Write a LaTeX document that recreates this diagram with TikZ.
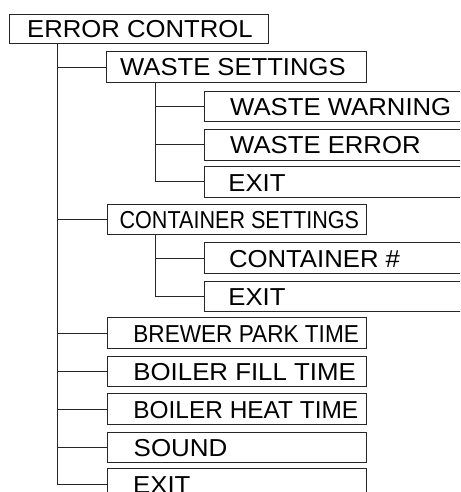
\documentclass[tikz,border=0pt]{standalone}
\usepackage{fontspec}
\setmainfont{Liberation Sans}
\usetikzlibrary{calc}
\tikzset{
  box/.style={draw=black!85, line width=0.9pt, inner sep=0pt, anchor=north west, minimum height=30.5pt},
  lvlA/.style={box, minimum width=259.5pt},
  lvlB/.style={box, minimum width=290pt},
  lbl/.style={inner sep=0pt, anchor=base west, font=\fontsize{24.5}{28}\selectfont},
  conn/.style={draw=black!85, line width=0.9pt}
}
\newcommand{\sx}[2]{\scalebox{#1}[1]{#2}}
\begin{document}
\begin{tikzpicture}[x=1pt,y=-1pt]
\useasboundingbox (0,0) rectangle (460,492);
\clip (0,0) rectangle (460,492);
% boxes
\node[box, minimum width=259.3pt, minimum height=29pt] (ec) at (9,14.3) {};
\node[lvlA] (ws) at (106.4,51.3) {};
\node[lvlB] (ww) at (204,90.7) {};
\node[lvlB] (we) at (204,129) {};
\node[lvlB] (x1) at (204,166.2) {};
\node[lvlA] (cs) at (106.6,203.5) {};
\node[lvlB] (cn) at (204,242.3) {};
\node[lvlB] (x2) at (204,280.7) {};
\node[lvlA] (bp) at (106.6,317.3) {};
\node[lvlA] (bf) at (106.6,355.7) {};
\node[lvlA] (bh) at (106.6,393.3) {};
\node[lvlA] (so) at (106.6,431.5) {};
\node[lvlA] (x3) at (106.6,468.3) {};
% labels
\node[lbl] (tec) at ($(ec.south west)+(18,-6.6)$) {\sx{1.048}{ERROR CONTROL}};
\node[lbl] (tws) at ($(ws.south west)+(13.6,-6.8)$) {\sx{1.046}{WASTE SETTINGS}};
\node[lbl] (tww) at ($(ww.south west)+(26,-6.6)$) {\sx{1.05}{WASTE WARNING}};
\node[lbl] (twe) at ($(we.south west)+(26,-6.6)$) {\sx{1.049}{WASTE ERROR}};
\node[lbl] (tx1) at ($(x1.south west)+(24.2,-6.6)$) {\sx{1.05}{EXIT}};
\node[lbl] (tcs) at ($(cs.south west)+(12.8,-6.8)$) {\sx{0.881}{CONTAINER SETTINGS}};
\node[lbl] (tcn) at ($(cn.south west)+(24.8,-6.6)$) {\sx{1.05}{CONTAINER \#}};
\node[lbl] (tx2) at ($(x2.south west)+(24.2,-6.6)$) {\sx{1.05}{EXIT}};
\node[lbl] (tbp) at ($(bp.south west)+(26.6,-6.4)$) {\sx{0.922}{BREWER PARK TIME}};
\node[lbl] (tbf) at ($(bf.south west)+(26.6,-6.4)$) {\sx{1.054}{BOILER FILL TIME}};
\node[lbl] (tbh) at ($(bh.south west)+(26.6,-6.4)$) {\sx{0.997}{BOILER HEAT TIME}};
\node[lbl] (tso) at ($(so.south west)+(26.9,-6.4)$) {\sx{1.06}{SOUND}};
\node[lbl] (tx3) at ($(x3.south west)+(26.4,-6.4)$) {\sx{1.05}{EXIT}};
% connectors
\coordinate (t0) at ($(ec.south west)+(48.6,0)$);
\coordinate (t1) at ($(ws.south west)+(49,0)$);
\coordinate (t2) at ($(cs.south west)+(49,0)$);
\foreach \c in {ws,cs,bp,bf,bh,so,x3} \draw[conn] (t0) |- (\c.west);
\foreach \c in {ww,we,x1} \draw[conn] (t1) |- (\c.west);
\foreach \c in {cn,x2} \draw[conn] (t2) |- (\c.west);
\end{tikzpicture}
\end{document}
